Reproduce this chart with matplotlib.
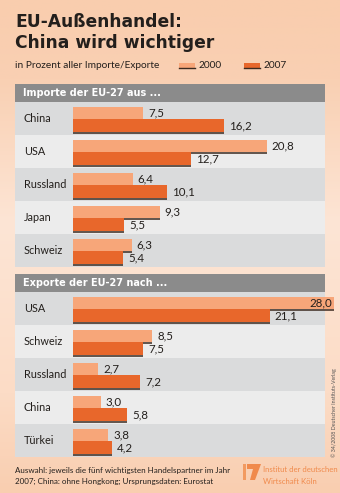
import numpy as np
import matplotlib
matplotlib.use('Agg')
import matplotlib.pyplot as plt
from matplotlib.patches import Rectangle, Polygon
from matplotlib.colors import LinearSegmentedColormap

plt.rcParams['font.family'] = ['Lato', 'DejaVu Sans']
HEAVY = ['DejaVu Sans']   # bold face for title and headers

# import / export shares in percent
import_partners = ['China', 'USA', 'Russland', 'Japan', 'Schweiz']
import_2000 = [7.5, 20.8, 6.4, 9.3, 6.3]
import_2007 = [16.2, 12.7, 10.1, 5.5, 5.4]

export_partners = ['USA', 'Schweiz', 'Russland', 'China', 'Türkei']
export_2000 = [28.0, 8.5, 2.7, 3.0, 3.8]
export_2007 = [21.1, 7.5, 7.2, 5.8, 4.2]

years = ['2000', '2007']

W, H = 340, 493
LIGHT = '#f7a679'
DARK = '#e8672b'
EDGE = '#3b2a20'
ROW_DARK = '#dadbdc'
ROW_LIGHT = '#ececec'
HEAD = '#8b8b8b'
TXT = '#231f1c'
LOGO = '#f08a4c'

PPU = 9.32      # pixels per percent point
BAR_X0 = 73     # where the bars start


def fmt(v):
  return '{:.1f}'.format(v).replace('.', ',')


def px_axes(fig, x0, y0, x1, y1):
  return fig.add_axes([x0 / W, 1 - y1 / H, (x1 - x0) / W, (y1 - y0) / H])


def draw_panel(fig, bg, top, title, partners, v2000, v2007):
  # grey header strip
  bg.add_patch(Rectangle((15, top), 310, 18, color=HEAD, lw=0))
  bg.text(23, top + 9.5, title, color='white', fontsize=7.0, fontweight='bold',
          family=HEAVY, va='center', ha='left')

  n = len(partners)
  ax = px_axes(fig, 15, top + 18, 325, top + 18 + 33 * n)
  ax.set_xlim(-(BAR_X0 - 15) / PPU, (325 - BAR_X0) / PPU)
  ax.set_ylim(n, 0)
  ax.axis('off')

  for i, name in enumerate(partners):
    ax.axhspan(i, i + 1, color=ROW_DARK if i % 2 == 0 else ROW_LIGHT, lw=0, zorder=0)
    ax.text((24 - BAR_X0) / PPU, i + 0.5, name, fontsize=7.8, color=TXT,
            va='center', ha='left')

  y_a = np.arange(n) + 0.333
  y_b = np.arange(n) + 0.712
  ax.barh(y_a, v2000, height=0.364, left=0, color=LIGHT, lw=0, zorder=2, clip_on=False)
  ax.hlines(y_a + 0.182 + 0.02, 0, v2000, color=EDGE, lw=1.1, zorder=2.5, clip_on=False)
  ax.barh(y_b, v2007, height=0.394, left=0, color=DARK, lw=0, zorder=3, clip_on=False)
  ax.hlines(y_b + 0.197 + 0.02, 0, v2007, color=EDGE, lw=1.1, zorder=3.5, clip_on=False)

  xmax = ax.get_xlim()[1]
  for ys, vals in ((y_a, v2000), (y_b, v2007)):
    for y, v in zip(ys, vals):
      if v > xmax - 2:
        ax.text(v - 2 / PPU, y, fmt(v), fontsize=8.3, color=TXT, va='center',
                ha='right', zorder=5, clip_on=False)
      else:
        ax.text(v + 5 / PPU, y, fmt(v), fontsize=8.3, color=TXT, va='center',
                ha='left', zorder=5)


def main():
  fig = plt.figure(figsize=(W / 100, H / 100), dpi=100)
  bg = fig.add_axes([0, 0, 1, 1])
  bg.set_xlim(0, W)
  bg.set_ylim(H, 0)
  bg.axis('off')

  # peach background, lighter behind the panels
  cmap = LinearSegmentedColormap.from_list('bg', [
    (0.0, '#f9cdae'), (0.16, '#f9d0b3'), (0.45, '#fde5d5'),
    (0.8, '#fcdcc6'), (1.0, '#f9ceb0')])
  grad = np.linspace(0, 1, 200).reshape(-1, 1)
  bg.imshow(grad, cmap=cmap, aspect='auto', extent=(0, W, H, 0), zorder=0)

  bg.text(15, 27, 'EU-Außenhandel:', fontsize=12.3, fontweight='bold', family=HEAVY,
          color=TXT, va='baseline')
  bg.text(15, 48, 'China wird wichtiger', fontsize=12.3, fontweight='bold', family=HEAVY,
          color=TXT, va='baseline')
  bg.text(15, 68, 'in Prozent aller Importe/Exporte', fontsize=7.3, color=TXT,
          va='baseline')

  # legend
  for x, col, label in ((179, LIGHT, years[0]), (244, DARK, years[1])):
    bg.add_patch(Rectangle((x, 62.5), 16, 5, color=col, lw=0))
    bg.plot([x, x + 16], [68, 68], color=EDGE, lw=1)
    bg.text(x + 20, 68, label, fontsize=7.3, color=TXT, va='baseline')

  draw_panel(fig, bg, 84, 'Importe der EU-27 aus ...', import_partners, import_2000, import_2007)
  draw_panel(fig, bg, 274, 'Exporte der EU-27 nach ...', export_partners, export_2000, export_2007)

  bg.text(15, 470, 'Auswahl: jeweils die fünf wichtigsten Handelspartner im Jahr',
          fontsize=5.8, color=TXT, va='center')
  bg.text(15, 481, '2007; China: ohne Hongkong; Ursprungsdaten: Eurostat',
          fontsize=5.8, color=TXT, va='center')

  # IW logo
  bg.add_patch(Rectangle((243, 464), 3, 16, color='#f29a60', lw=0))
  bg.add_patch(Polygon([(247, 464), (261, 464), (255, 480), (250, 480), (253, 469), (247, 469)],
                       closed=True, color=LOGO, lw=0))
  bg.text(263, 470, 'Institut der deutschen', fontsize=5.6, color=LOGO, va='center')
  bg.text(263, 481, 'Wirtschaft Köln', fontsize=5.6, color=LOGO, va='center')

  bg.text(334, 457, '© 34/2008 Deutscher Instituts-Verlag', fontsize=3.8, color='#555555',
          rotation=90, ha='center', va='bottom')

  fig.savefig('out.png', dpi=100)


if __name__ == '__main__':
  main()
